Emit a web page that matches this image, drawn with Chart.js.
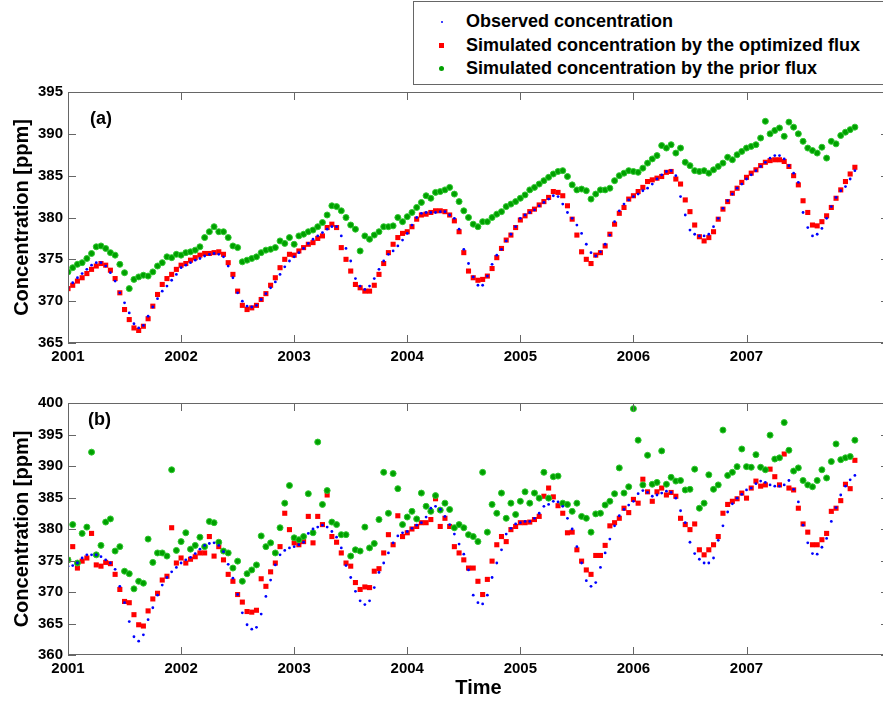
<!DOCTYPE html>
<html>
<head>
<meta charset="utf-8">
<script src="https://cdn.jsdelivr.net/npm/chart.js@4.4.1/dist/chart.umd.min.js"></script>
<style>
  html, body { margin: 0; padding: 0; background: #fff; }
  body { width: 883px; height: 703px; overflow: hidden; position: relative;
         font-family: Arial, "Liberation Sans", sans-serif; }
  canvas { position: absolute; left: 0; }
  #chartA { top: 0; }
  #chartB { top: 360px; }
  #legend { position: absolute; left: 413px; top: 1px; width: 490px; height: 82px;
            border: 1px solid #666; background: #fff; }
  .row { position: absolute; left: 0; width: 480px; height: 23px; }
  .row span.txt { position: absolute; left: 52px; top: 0; line-height: 23px;
                  font-size: 18px; font-weight: bold; color: #000; white-space: nowrap; }
  .row span.mk { position: absolute; }
</style>
</head>
<body>
<canvas id="chartA" width="900" height="380"></canvas>
<canvas id="chartB" width="900" height="343"></canvas>
<div id="legend"></div>
<script>
// sampling: half-month steps starting Jan 2001
const startYear = 2001;
const perYear = 24;
const yearTicks = [2001, 2002, 2003, 2004, 2005, 2006, 2007];
const seriesNames = [
  "Observed concentration",
  "Simulated concentration by the optimized flux",
  "Simulated concentration by the prior flux"
];
const panelLabels = ["(a)", "(b)"];

// panel (a)
const obsA = [
  371.6, 372.2, 372.8, 373.3, 373.8, 374.3, 374.6, 374.6, 374.2, 373.4, 372.4, 371.0, 369.8, 368.6, 367.3, 366.8, 367.1, 368.2, 369.3, 370.3, 371.2, 371.8, 372.5, 373.2,
  374.0, 374.3, 374.6, 374.9, 375.1, 375.4, 375.6, 375.7, 375.6, 375.3, 374.2, 372.8, 371.0, 370.0, 369.4, 369.3, 369.5, 370.2, 370.9, 371.6, 372.3, 373.2, 374.1, 374.8,
  375.3, 375.8, 376.3, 376.9, 377.4, 377.8, 378.2, 378.6, 378.9, 378.9, 377.8, 376.3, 374.8, 372.7, 371.8, 371.4, 371.8, 372.7, 373.8, 374.8, 375.6, 376.0, 376.6, 377.3,
  378.1, 379.1, 380.0, 380.5, 380.6, 380.6, 380.6, 380.7, 380.7, 380.3, 379.9, 378.6, 376.2, 374.5, 372.9, 371.9, 371.9, 373.0, 374.4, 375.5, 376.2, 377.2, 378.0, 378.9,
  379.9, 380.3, 380.6, 380.9, 381.4, 381.8, 382.2, 382.6, 382.5, 381.6, 380.6, 379.9, 379.1, 378.1, 376.8, 375.8, 375.4, 375.9, 376.8, 377.9, 379.5, 380.8, 381.6, 382.1,
  382.5, 382.8, 383.2, 383.5, 384.0, 384.6, 385.1, 385.5, 385.6, 385.0, 382.5, 380.3, 378.5, 378.0, 377.8, 377.8, 378.0, 378.9, 379.9, 381.1, 382.0, 382.8, 383.5, 384.0,
  384.6, 385.1, 385.6, 386.1, 386.6, 387.1, 387.4, 387.4, 387.0, 386.2, 385.3, 384.2, 380.6, 378.8, 377.8, 378.0, 378.7, 379.9, 381.3, 382.4, 383.2, 383.7, 384.6, 385.6
];
const optA = [
  371.5, 371.9, 372.4, 372.8, 373.3, 373.8, 374.2, 374.5, 374.3, 373.7, 372.7, 371.0, 369.0, 367.8, 366.8, 366.5, 367.0, 367.9, 369.4, 370.8, 372.0, 372.7, 373.2, 373.8,
  374.3, 374.5, 374.9, 375.2, 375.5, 375.7, 375.7, 375.8, 375.9, 375.6, 374.6, 373.2, 371.2, 369.5, 369.0, 369.2, 369.5, 370.2, 370.9, 371.9, 372.8, 374.0, 375.0, 375.6,
  375.5, 376.0, 376.4, 376.8, 377.0, 377.5, 377.8, 378.8, 379.2, 378.8, 376.4, 375.0, 373.6, 372.0, 371.6, 371.2, 371.2, 371.9, 373.2, 374.5, 375.8, 376.8, 377.6, 378.1,
  378.3, 378.9, 379.8, 380.3, 380.4, 380.6, 380.8, 380.8, 380.7, 380.3, 379.6, 378.3, 375.8, 373.6, 372.8, 372.5, 372.6, 373.0, 373.9, 375.2, 376.3, 377.3, 377.9, 378.8,
  379.7, 380.2, 380.7, 381.0, 381.5, 381.9, 382.4, 383.1, 383.0, 382.6, 381.4, 379.8, 377.9, 375.9, 375.0, 374.5, 375.5, 375.8, 376.6, 378.0, 379.2, 380.5, 381.2, 382.2,
  382.6, 383.1, 383.6, 384.3, 384.5, 384.7, 384.9, 385.4, 385.5, 384.6, 384.0, 382.1, 380.7, 379.1, 377.7, 377.2, 377.6, 378.3, 379.8, 381.0, 381.9, 382.9, 383.5, 384.2,
  384.8, 385.3, 385.7, 386.2, 386.6, 386.8, 386.9, 386.9, 386.7, 386.1, 385.0, 383.9, 382.0, 380.6, 379.1, 379.0, 379.5, 380.2, 381.2, 382.3, 383.3, 384.3, 385.2, 386.0
];
const priorA = [
  373.5, 374.0, 374.4, 374.6, 375.1, 375.7, 376.5, 376.6, 376.3, 375.8, 375.5, 374.4, 373.4, 371.5, 372.6, 372.9, 373.1, 373.0, 373.5, 374.2, 374.6, 375.3, 375.2, 375.6,
  375.5, 375.8, 375.9, 376.1, 376.5, 377.6, 378.3, 378.9, 378.3, 378.3, 377.6, 376.6, 376.4, 374.7, 374.9, 375.1, 375.3, 375.8, 376.1, 376.2, 376.4, 377.2, 376.9, 377.6,
  376.8, 377.8, 378.0, 378.3, 378.5, 378.9, 379.4, 380.3, 381.4, 381.3, 380.8, 380.0, 379.1, 378.6, 376.0, 377.8, 377.4, 377.9, 378.3, 378.9, 378.9, 379.0, 380.0, 379.5,
  380.1, 380.6, 381.2, 381.8, 382.6, 382.3, 383.0, 383.1, 383.3, 383.6, 382.8, 381.9, 380.8, 380.0, 379.2, 378.9, 379.5, 379.5, 380.0, 380.4, 380.7, 381.3, 381.6, 381.9,
  382.3, 382.7, 383.3, 383.6, 384.0, 384.4, 384.8, 385.2, 385.5, 385.6, 384.9, 383.9, 383.3, 383.4, 383.2, 382.2, 382.8, 383.3, 383.3, 383.5, 384.4, 385.0, 385.3, 385.6,
  385.5, 385.4, 385.9, 386.5, 387.0, 387.4, 388.6, 388.3, 388.7, 387.7, 388.3, 386.6, 386.2, 385.6, 385.5, 385.6, 385.3, 385.7, 386.1, 386.5, 387.2, 386.9, 387.5, 387.9,
  388.3, 388.5, 388.7, 389.5, 391.5, 390.0, 390.4, 390.7, 389.7, 391.4, 390.8, 390.0, 389.1, 388.3, 388.0, 387.7, 388.4, 387.1, 389.1, 388.8, 389.8, 390.2, 390.5, 390.8
];

// panel (b)
const obsB = [
  374.1, 374.2, 374.6, 375.4, 375.9, 375.9, 375.9, 375.6, 375.1, 374.6, 373.6, 370.9, 368.3, 365.3, 362.9, 362.2, 363.2, 365.6, 367.5, 369.5, 371.1, 372.3, 373.2, 373.9,
  374.6, 375.1, 375.5, 376.1, 376.8, 377.4, 377.7, 377.8, 377.4, 376.4, 374.4, 372.2, 369.6, 366.7, 364.8, 364.1, 364.4, 366.5, 369.3, 371.9, 374.3, 375.9, 376.6, 377.0,
  377.2, 377.5, 377.9, 379.3, 380.0, 380.3, 380.6, 380.3, 379.6, 378.7, 377.0, 374.2, 372.3, 370.1, 368.6, 368.0, 368.6, 370.7, 373.1, 374.6, 376.2, 377.8, 378.9, 379.4,
  379.6, 380.1, 380.6, 381.0, 381.9, 383.3, 383.6, 383.1, 382.0, 380.7, 379.2, 377.6, 376.0, 373.5, 369.5, 368.3, 368.1, 369.5, 372.3, 374.6, 376.7, 379.2, 380.1, 380.8,
  381.0, 381.2, 381.2, 381.7, 382.5, 383.6, 383.9, 384.4, 384.3, 383.6, 381.7, 380.0, 377.2, 374.6, 371.8, 370.9, 371.5, 373.9, 376.2, 378.4, 380.5, 382.1, 383.1, 383.8,
  384.4, 385.6, 386.1, 385.8, 385.2, 385.4, 385.7, 386.0, 385.8, 384.9, 382.9, 381.0, 377.9, 376.1, 375.2, 374.6, 374.6, 375.4, 378.2, 380.5, 382.7, 384.0, 384.9, 385.5,
  386.2, 386.5, 387.2, 387.6, 387.4, 387.0, 386.8, 386.8, 387.0, 387.7, 386.3, 384.3, 380.6, 377.8, 376.1, 376.0, 377.1, 378.5, 381.2, 383.4, 385.4, 386.8, 387.8, 388.5
];
const optB = [
  375.1, 377.2, 373.8, 374.9, 375.4, 379.3, 374.3, 374.1, 374.7, 374.5, 372.8, 370.4, 368.5, 368.3, 366.4, 364.8, 364.6, 367.0, 368.9, 369.8, 371.9, 372.5, 380.2, 374.6,
  375.4, 374.6, 375.2, 375.6, 376.2, 376.2, 378.8, 375.7, 377.2, 375.1, 372.8, 371.7, 369.6, 368.4, 366.9, 366.8, 367.1, 372.1, 370.9, 373.2, 374.6, 377.2, 382.5, 379.9,
  377.8, 377.5, 378.0, 382.0, 377.8, 382.0, 380.7, 385.4, 378.8, 377.9, 376.2, 374.6, 374.1, 371.5, 370.4, 370.8, 370.7, 373.3, 373.7, 376.2, 379.1, 377.5, 382.1, 378.8,
  379.4, 380.0, 380.4, 381.0, 381.0, 381.5, 384.8, 380.4, 381.7, 380.4, 377.2, 376.2, 375.1, 373.8, 373.8, 371.7, 369.6, 372.0, 374.9, 377.5, 378.8, 378.0, 379.9, 380.4,
  381.0, 381.0, 381.1, 381.5, 382.0, 385.2, 386.5, 385.1, 383.7, 382.5, 379.4, 379.5, 376.7, 374.9, 373.5, 372.8, 375.8, 375.8, 377.4, 380.5, 381.0, 381.7, 383.3, 382.6,
  384.7, 384.1, 387.9, 385.9, 384.4, 385.9, 386.5, 385.4, 385.8, 385.2, 381.7, 380.7, 379.9, 380.8, 376.7, 375.9, 376.7, 377.5, 378.8, 382.5, 383.9, 384.4, 384.8, 385.7,
  384.9, 386.5, 387.6, 386.8, 387.0, 389.5, 388.3, 387.0, 391.9, 386.5, 386.2, 383.3, 380.8, 379.5, 377.5, 377.5, 378.3, 379.3, 382.8, 383.3, 384.5, 387.1, 386.4, 390.9
];
const priorB = [
  375.1, 380.7, 374.6, 379.3, 380.3, 392.2, 375.9, 377.4, 381.1, 381.6, 376.5, 377.2, 373.3, 372.9, 370.5, 371.7, 371.4, 378.4, 374.7, 376.2, 376.2, 375.7, 389.4, 376.6,
  378.0, 379.4, 376.8, 377.4, 378.7, 377.2, 381.2, 381.0, 377.9, 376.5, 376.2, 373.8, 374.9, 371.7, 372.9, 373.5, 374.3, 378.9, 377.2, 377.8, 376.2, 380.2, 384.1, 386.9,
  378.6, 378.3, 378.8, 385.6, 379.4, 393.8, 383.9, 386.1, 381.1, 380.7, 379.1, 379.1, 375.7, 376.7, 376.5, 380.3, 377.0, 377.7, 381.5, 389.0, 382.5, 388.8, 386.4, 380.7,
  381.9, 382.8, 381.6, 385.7, 383.6, 382.8, 385.3, 383.0, 384.1, 383.1, 380.2, 380.7, 380.2, 379.1, 378.8, 378.0, 389.0, 379.5, 383.9, 382.5, 385.7, 381.7, 384.1, 382.3,
  384.4, 385.9, 384.1, 385.7, 384.9, 389.0, 384.9, 388.3, 388.4, 384.1, 383.9, 382.8, 384.1, 382.0, 381.7, 379.5, 382.4, 382.5, 383.8, 384.4, 385.6, 389.7, 385.7, 386.7,
  399.1, 394.1, 387.0, 391.7, 387.1, 387.4, 392.4, 387.1, 388.2, 387.6, 387.7, 386.2, 386.3, 389.5, 383.3, 384.1, 388.6, 386.3, 387.0, 395.7, 388.5, 389.0, 389.9, 392.7,
  389.9, 389.8, 391.8, 389.8, 389.4, 394.9, 391.1, 391.3, 396.9, 392.5, 389.2, 389.7, 387.7, 387.0, 386.7, 387.7, 389.4, 388.1, 390.7, 393.5, 391.0, 391.3, 391.5, 394.1
];

const times = obsA.map((v, i) => startYear + i / perYear);
const toPoints = vals => vals.map((v, i) => ({ x: times[i], y: v }));

// observed, optimized, prior
const styles = [
  { pointStyle: "circle", pointRadius: 1.4, pointBackgroundColor: "#0000ff", pointBorderWidth: 0, order: 0 },
  { pointStyle: "rect", pointRadius: 3.6, pointBackgroundColor: "#ff0000", pointBorderWidth: 0, order: 2 },
  { pointStyle: "circle", pointRadius: 3, pointBackgroundColor: "#00a000", pointBorderColor: "#2fc82f", pointBorderWidth: 1, order: 1 }
];

const frameColor = "#666";
const tickFont = { family: "Arial, 'Liberation Sans', sans-serif", size: 15, weight: "bold" };
const titleFont = { family: "Arial, 'Liberation Sans', sans-serif", size: 20, weight: "bold" };

// box + inward ticks on all four sides, like the original figure
const framePlugin = {
  id: "frame",
  afterDatasetsDraw(chart) {
    const { ctx, chartArea: a, scales: { x, y } } = chart;
    ctx.save();
    ctx.strokeStyle = frameColor;
    ctx.lineWidth = 1;
    ctx.strokeRect(a.left + 0.5, a.top + 0.5, a.right - a.left, a.bottom - a.top - 1);
    ctx.beginPath();
    const len = 8;
    yearTicks.forEach(v => {
      const px = Math.round(x.getPixelForValue(v)) + 0.5;
      ctx.moveTo(px, a.bottom); ctx.lineTo(px, a.bottom - len);
      ctx.moveTo(px, a.top); ctx.lineTo(px, a.top + len);
    });
    y.ticks.forEach(t => {
      const py = Math.round(y.getPixelForValue(t.value)) + 0.5;
      ctx.moveTo(a.left, py); ctx.lineTo(a.left + len, py);
      ctx.moveTo(a.right, py); ctx.lineTo(a.right - len, py);
    });
    ctx.stroke();
    const lab = chart.options.plugins.frame;
    ctx.fillStyle = "#000";
    ctx.font = "bold 18px Arial, 'Liberation Sans', sans-serif";
    ctx.textBaseline = "middle";
    ctx.textAlign = "left";
    ctx.fillText(lab.text, a.left + lab.dx, a.top + lab.dy);
    ctx.restore();
  }
};

function makePanel(id, series, yMin, yMax, opts) {
  const datasets = series.map((vals, k) => Object.assign({
    label: seriesNames[k],
    data: toPoints(vals),
    showLine: false
  }, styles[k]));

  return new Chart(document.getElementById(id), {
    type: "scatter",
    data: { datasets },
    plugins: [framePlugin],
    options: {
      responsive: false,
      animation: false,
      events: [],
      layout: { padding: opts.padding },
      plugins: {
        legend: { display: false },
        tooltip: { enabled: false },
        frame: { text: opts.label, dx: opts.labelDx, dy: opts.labelDy }
      },
      scales: {
        x: {
          type: "linear",
          min: 2001,
          max: 2008.26,
          afterBuildTicks: s => { s.ticks = yearTicks.map(v => ({ value: v })); },
          afterFit: s => { s.height = opts.xHeight; },
          grid: { display: false, drawTicks: false },
          border: { display: false },
          ticks: { autoSkip: false, maxRotation: 0, padding: 5, color: "#000", font: tickFont,
                   callback: v => String(v) },
          title: { display: !!opts.xTitle, text: opts.xTitle || "", color: "#000", font: titleFont,
                   padding: { top: 0, bottom: 3 } }
        },
        y: {
          min: yMin,
          max: yMax,
          afterFit: s => { s.width = 68; },
          grid: { display: false, drawTicks: false },
          border: { display: false },
          ticks: { stepSize: 5, padding: 5, color: "#000", font: tickFont },
          title: { display: true, text: "Concentration [ppm]", color: "#000", font: titleFont,
                   padding: { top: 10, bottom: 0 } }
        }
      }
    }
  });
}

makePanel("chartA", [obsA, optA, priorA], 365, 395, {
  padding: { left: 0, top: 92, right: 11, bottom: 7 },
  xHeight: 30, label: panelLabels[0], labelDx: 22, labelDy: 27
});
makePanel("chartB", [obsB, optB, priorB], 360, 400, {
  padding: { left: 0, top: 43, right: 11, bottom: 0 },
  xHeight: 48, xTitle: "Time", label: panelLabels[1], labelDx: 20, labelDy: 17
});

// legend box (top right)
const legend = document.getElementById("legend");
const markers = [
  { w: 2, h: 2, r: "50%", c: "#0000ff" },
  { w: 5, h: 5, r: "0", c: "#ff0000" },
  { w: 5, h: 5, r: "50%", c: "#00a000" }
];
seriesNames.forEach((name, k) => {
  const row = document.createElement("div");
  row.className = "row";
  row.style.top = (8.2 + 23.3 * k) + "px";
  const m = markers[k];
  const mk = document.createElement("span");
  mk.className = "mk";
  mk.style.cssText = `left:${27.7 - m.w / 2}px;top:${11.5 - m.h / 2}px;width:${m.w}px;height:${m.h}px;` +
                     `border-radius:${m.r};background:${m.c};`;
  const txt = document.createElement("span");
  txt.className = "txt";
  txt.textContent = name;
  row.appendChild(mk);
  row.appendChild(txt);
  legend.appendChild(row);
});
</script>
</body>
</html>
